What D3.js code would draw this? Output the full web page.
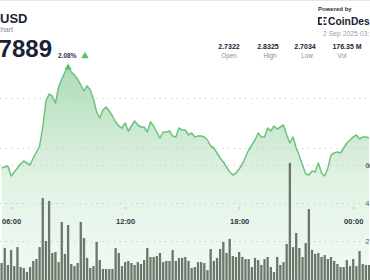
<!DOCTYPE html>
<html>
<head>
<meta charset="utf-8">
<script src="https://cdn.jsdelivr.net/npm/d3@7.9.0/dist/d3.min.js"></script>
<style>
  html, body { margin: 0; padding: 0; background: #fff; overflow: hidden; }
  svg { display: block; font-family: "Liberation Sans", Arial, sans-serif; }
</style>
</head>
<body>
<svg id="chart" width="370" height="280"></svg>
<script>
// price (USD) every 10 minutes, starting 05:30
const prices = [
  2.730, 2.731, 2.732, 2.722, 2.726, 2.730, 2.734, 2.737, 2.735, 2.733,
  2.740, 2.746, 2.752, 2.771, 2.797, 2.804, 2.802, 2.795, 2.811, 2.819,
  2.826, 2.8325, 2.826, 2.823, 2.819, 2.813, 2.807, 2.812, 2.808, 2.799,
  2.786, 2.780, 2.788, 2.791, 2.787, 2.782, 2.776, 2.772, 2.770, 2.775,
  2.767, 2.772, 2.777, 2.773, 2.771, 2.771, 2.766, 2.776, 2.772, 2.766,
  2.760, 2.766, 2.766, 2.767, 2.762, 2.761, 2.770, 2.768, 2.768, 2.763,
  2.765, 2.761, 2.762, 2.762, 2.761, 2.758, 2.752, 2.750, 2.745, 2.740,
  2.736, 2.731, 2.726, 2.723, 2.725, 2.729, 2.734, 2.741, 2.748, 2.753,
  2.758, 2.765, 2.761, 2.761, 2.770, 2.767, 2.772, 2.769, 2.771, 2.773,
  2.763, 2.755, 2.761, 2.750, 2.742, 2.733, 2.724, 2.723, 2.727, 2.726,
  2.735, 2.725, 2.722, 2.730, 2.743, 2.745, 2.746, 2.745, 2.750, 2.755,
  2.758, 2.761, 2.763, 2.759, 2.761, 2.761, 2.760
];

// volume (millions) per 10-minute bar
const volumes = [
  0.84, 1.63, 0.74, 1.53, 0.68, 1.68, 0.63, 0.58, 0.37, 0.63,
  0.95, 1.05, 1.68, 4.26, 2.00, 4.11, 1.37, 1.42, 0.89, 3.00,
  1.32, 2.84, 0.79, 0.68, 0.84, 3.00, 2.16, 1.11, 0.58, 0.68,
  1.95, 1.00, 0.53, 0.53, 0.53, 0.53, 1.63, 1.37, 0.68, 0.89,
  0.95, 0.84, 0.74, 0.89, 0.79, 1.00, 1.63, 1.16, 1.16, 1.21,
  1.37, 0.89, 0.95, 0.95, 1.53, 0.95, 1.11, 1.11, 1.16, 0.95,
  0.58, 0.63, 0.89, 0.89, 0.84, 0.47, 1.58, 0.95, 1.11, 1.58,
  1.95, 1.37, 2.11, 1.21, 1.16, 1.42, 1.16, 1.05, 1.05, 0.63,
  1.11, 1.00, 0.74, 1.05, 1.16, 0.63, 0.37, 1.16, 0.74, 0.89,
  1.84, 6.11, 1.68, 2.42, 1.63, 1.16, 1.89, 3.68, 1.53, 1.32,
  1.37, 1.16, 1.26, 1.05, 1.16, 0.95, 0.79, 0.63, 0.63, 1.00,
  0.68, 1.05, 0.68, 1.47, 0.79, 0.74, 0.74
];

const timeTicks = ["06:00", "12:00", "18:00", "00:00"];
const priceGrid = [2.75, 2.80];
const volumeGrid = [2, 4, 6];
const volumeTickLabels = ["2", "4", "6"];

const statValues = ["2.7322", "2.8325", "2.7034", "176.35 M"];
const statLabels = ["Open", "High", "Low", "Vol"];
const openPrice = 2.7322;
const lastPrice = "2.7889";
const changePct = "2.08%";

const start = new Date(2025, 8, 1, 5, 30);
const data = prices.map((p, i) => ({
  t: d3.timeMinute.offset(start, i * 10),
  price: p,
  vol: volumes[i]
}));

const svg = d3.select("#chart");
const W = 370, H = 280;

const x = d3.scaleTime()
  .domain([new Date(2025, 8, 1, 5, 25), new Date(2025, 8, 2, 0, 53)])
  .range([0, W]);
const y = d3.scaleLinear().domain([2.75, 2.80]).range([148, 98]);
const yVol = d3.scaleLinear().domain([0, 6]).range([279, 165]);

const defs = svg.append("defs");
const grad = defs.append("linearGradient")
  .attr("id", "areaFill")
  .attr("gradientUnits", "userSpaceOnUse")
  .attr("x1", 0).attr("x2", 0).attr("y1", 60).attr("y2", 280);
grad.append("stop").attr("offset", "0%").attr("stop-color", "#5cb96d").attr("stop-opacity", 0.52);
grad.append("stop").attr("offset", "55%").attr("stop-color", "#6cc07b").attr("stop-opacity", 0.2);
grad.append("stop").attr("offset", "100%").attr("stop-color", "#7cc88a").attr("stop-opacity", 0.1);

// top card edge
svg.append("line")
  .attr("x1", 0).attr("x2", W).attr("y1", 0.5).attr("y2", 0.5)
  .attr("stroke", "#e4e6e8");

// price area
const area = d3.area()
  .x(d => x(d.t))
  .y0(H)
  .y1(d => y(d.price));
svg.append("path")
  .datum(data)
  .attr("fill", "url(#areaFill)")
  .attr("d", area);

// dotted grid lines
const gridLines = priceGrid.map(v => y(v)).concat(volumeGrid.map(v => yVol(v)));
svg.selectAll(".grid")
  .data(gridLines)
  .enter()
  .append("line")
  .attr("class", "grid")
  .attr("x1", 0).attr("x2", W)
  .attr("y1", d => Math.round(d) + 0.5)
  .attr("y2", d => Math.round(d) + 0.5)
  .attr("stroke", "#c5cac8")
  .attr("stroke-width", 1)
  .attr("stroke-dasharray", "1.2 4.5");

// volume bars
svg.selectAll(".vol")
  .data(data)
  .enter()
  .append("rect")
  .attr("class", "vol")
  .attr("x", d => x(d.t) - 1.15)
  .attr("width", 2.3)
  .attr("y", d => yVol(d.vol))
  .attr("height", d => yVol(0) - yVol(d.vol) + 1)
  .attr("fill", "#6b776a");

// price line
const line = d3.line()
  .x(d => x(d.t))
  .y(d => y(d.price));
svg.append("path")
  .datum(data)
  .attr("fill", "none")
  .attr("stroke", "#6fc27d")
  .attr("stroke-width", 1.5)
  .attr("stroke-linejoin", "round")
  .attr("d", line);

// high marker
const hi = data.reduce((a, b) => (b.price > a.price ? b : a));
svg.append("path")
  .attr("d", d3.symbol(d3.symbolTriangle, 22)())
  .attr("transform", `translate(${x(hi.t)},${y(hi.price) + 2})`)
  .attr("fill", "#5cbf6e");

// open price marker at right edge
svg.append("circle")
  .attr("cx", x(data[data.length - 1].t) + 0.5)
  .attr("cy", y(openPrice))
  .attr("r", 2)
  .attr("fill", "#9aa19b");

// time axis
const parseHM = d3.timeParse("%H:%M");
const tickDates = timeTicks.map(s => {
  const t = parseHM(s);
  return new Date(2025, 8, s === "00:00" ? 2 : 1, t.getHours(), t.getMinutes());
});
const xAxis = svg.append("g")
  .attr("transform", "translate(0,207)")
  .call(d3.axisBottom(x)
    .tickValues(tickDates)
    .tickFormat(d3.timeFormat("%H:%M"))
    .tickSize(2)
    .tickPadding(10));
xAxis.select(".domain").remove();
xAxis.selectAll(".tick line").attr("stroke", "#b8bdba");
xAxis.selectAll(".tick text")
  .attr("fill", "#2f3746")
  .attr("font-size", 7.5)
  .attr("font-weight", "bold")
  .attr("font-family", "'Liberation Sans', Arial, sans-serif");

// volume axis labels at the right edge
svg.selectAll(".vlab")
  .data(volumeGrid)
  .enter()
  .append("text")
  .attr("class", "vlab")
  .attr("x", 365.5)
  .attr("y", d => yVol(d) + 2.5)
  .attr("font-size", 7)
  .attr("fill", "#555c58")
  .text((d, i) => volumeTickLabels[i]);

// header left
svg.append("text")
  .attr("x", 0).attr("y", 23)
  .attr("font-size", 13).attr("font-weight", "bold")
  .attr("fill", "#1b2236")
  .text("USD");
svg.append("text")
  .attr("x", 13).attr("y", 32)
  .attr("text-anchor", "end")
  .attr("font-size", 7).attr("fill", "#7d8390")
  .text("Chart");
svg.append("text")
  .attr("x", 52).attr("y", 57)
  .attr("text-anchor", "end")
  .attr("font-size", 24).attr("font-weight", "bold")
  .attr("fill", "#1b2236")
  .text(lastPrice);
svg.append("text")
  .attr("x", 58).attr("y", 58)
  .attr("font-size", 6.5).attr("font-weight", "bold")
  .attr("fill", "#2a3142")
  .text(changePct);
svg.append("path")
  .attr("d", d3.symbol(d3.symbolTriangle, 24)())
  .attr("transform", "translate(85,56)")
  .attr("fill", "#5cbf6e");

// header right
svg.append("text")
  .attr("x", 318).attr("y", 11)
  .attr("font-size", 6).attr("font-weight", "bold")
  .attr("fill", "#2a3142")
  .text("Powered by");

const logo = svg.append("g").attr("transform", "translate(318,17)").attr("fill", "#1b2236");
logo.append("rect").attr("x", 0).attr("y", 0).attr("width", 4).attr("height", 1.6);
logo.append("rect").attr("x", 0).attr("y", 0).attr("width", 1.6).attr("height", 8);
logo.append("rect").attr("x", 0).attr("y", 6.4).attr("width", 4).attr("height", 1.6);
logo.append("rect").attr("x", 5.5).attr("y", 0).attr("width", 3).attr("height", 1.6);
logo.append("rect").attr("x", 5.5).attr("y", 3.2).attr("width", 1.6).attr("height", 1.6);
logo.append("rect").attr("x", 5.5).attr("y", 6.4).attr("width", 3).attr("height", 1.6);
svg.append("text")
  .attr("x", 328).attr("y", 25)
  .attr("font-size", 10.3).attr("font-weight", "bold")
  .attr("fill", "#1b2236")
  .text("CoinDesk");
svg.append("text")
  .attr("x", 323).attr("y", 36)
  .attr("font-size", 6.8)
  .attr("fill", "#9aa0a8")
  .text("2 Sep 2025 03:");

const statX = [229, 268, 305, 347];
const labelX = [229, 270, 307, 342];
svg.selectAll(".sval")
  .data(statValues)
  .enter()
  .append("text")
  .attr("class", "sval")
  .attr("x", (d, i) => statX[i]).attr("y", 48.5)
  .attr("text-anchor", "middle")
  .attr("font-size", 7).attr("font-weight", "bold")
  .attr("fill", "#1b2236")
  .text(d => d);
svg.selectAll(".slab")
  .data(statLabels)
  .enter()
  .append("text")
  .attr("class", "slab")
  .attr("x", (d, i) => labelX[i]).attr("y", 58)
  .attr("text-anchor", "middle")
  .attr("font-size", 6.3)
  .attr("fill", "#8a9099")
  .text(d => d);
</script>
</body>
</html>
